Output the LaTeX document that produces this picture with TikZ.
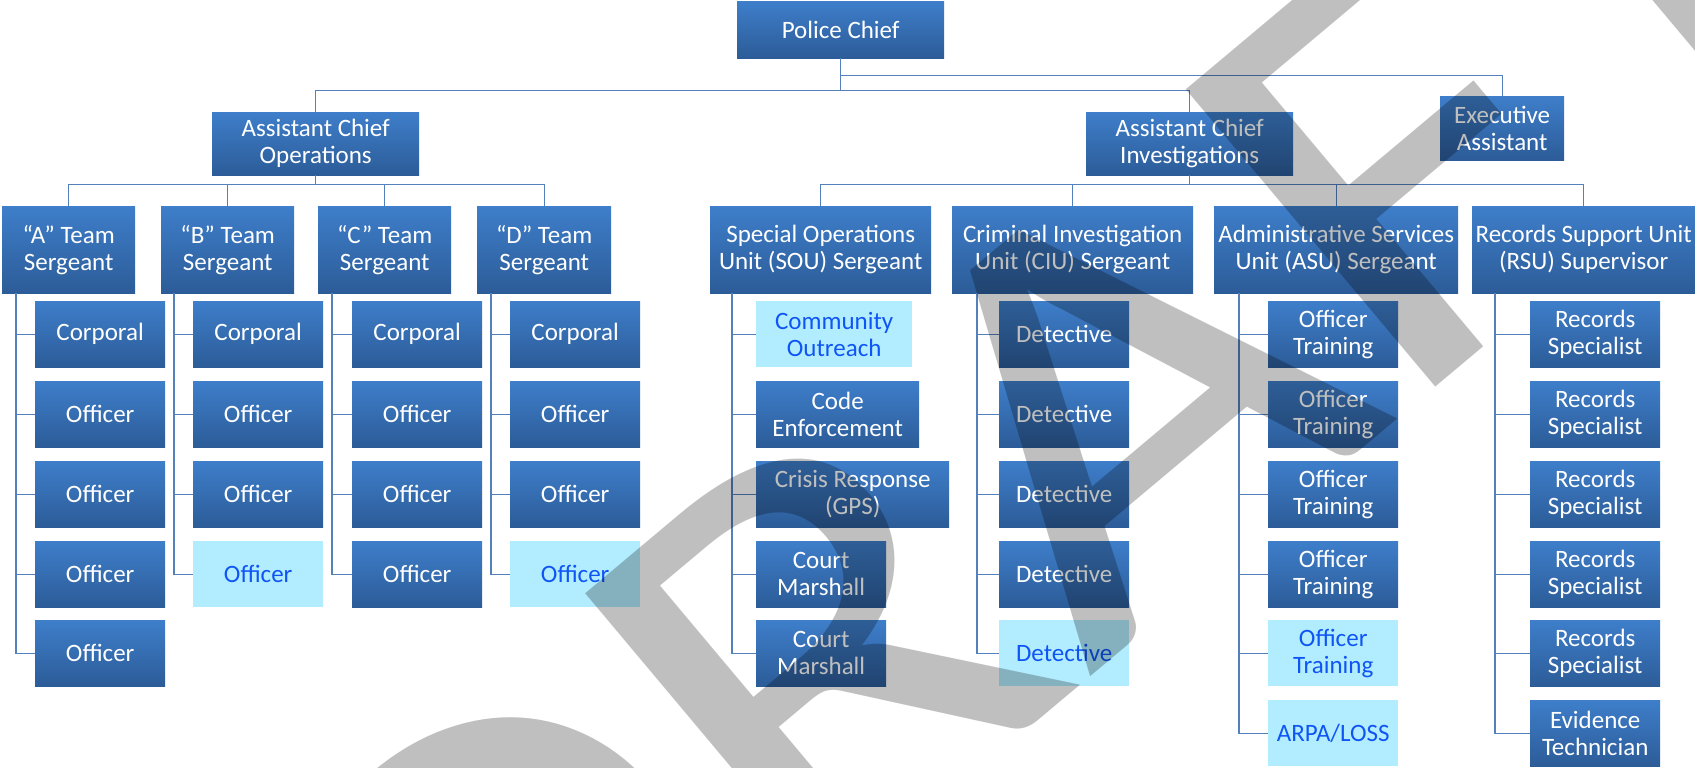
\documentclass[tikz,border=0pt]{standalone}
\usepackage{fontspec}
\setmainfont{Carlito}
\newfontfamily\wmfont{Carlito}
\definecolor{btop}{RGB}{62,126,202}
\definecolor{bbot}{RGB}{44,92,152}
\definecolor{hlfill}{RGB}{178,237,255}
\definecolor{hltext}{RGB}{15,85,245}
\definecolor{lnc}{RGB}{84,128,188}
\definecolor{wmc}{RGB}{191,191,191}
\tikzset{
  base/.style={anchor=north west, inner sep=0pt, align=center, font=\fontsize{25}{27}\selectfont},
  bx/.style={base, text=white, top color=btop, bottom color=bbot},
  hb/.style={base, text=hltext, fill=hlfill},
  ln/.style={draw=lnc, line width=1.3pt},
}
\newcommand\kid[7]{%
  \node[#1, minimum width=#6pt, minimum height=66pt] (#2) at (#4,#5) {#7};
  \draw[ln] (#3) |- (#2.west);}
\begin{document}
\begin{tikzpicture}[x=1pt,y=-1pt]
\useasboundingbox (0,0) rectangle (1695,768);
% top levels
\node[bx, minimum width=207pt, minimum height=57pt] (pc) at (737,1) {Police Chief};
\node[bx, minimum width=207pt, minimum height=63pt] (aco) at (212,112) {Assistant Chief\\Operations};
\node[bx, minimum width=207pt, minimum height=63pt] (aci) at (1086,112) {Assistant Chief\\Investigations};
\node[bx, minimum width=124pt, minimum height=64pt] (ea) at (1440,96) {Executive\\Assistant};
% sergeants
\node[bx, minimum width=133pt, minimum height=87pt] (sA) at (2,206) {“A” Team\\Sergeant};
\node[bx, minimum width=133pt, minimum height=87pt] (sB) at (161,206) {“B” Team\\Sergeant};
\node[bx, minimum width=133pt, minimum height=87pt] (sC) at (318,206) {“C” Team\\Sergeant};
\node[bx, minimum width=134pt, minimum height=87pt] (sD) at (477,206) {“D” Team\\Sergeant};
\node[bx, minimum width=221pt, minimum height=87pt] (sou) at (710,206) {Special Operations\\Unit (SOU) Sergeant};
\node[bx, minimum width=241pt, minimum height=87pt] (ciu) at (952,206) {Criminal Investigation\\Unit (CIU) Sergeant};
\node[bx, minimum width=244pt, minimum height=87pt] (asu) at (1214,206) {Administrative Services\\Unit (ASU) Sergeant};
\node[bx, minimum width=223pt, minimum height=87pt] (rsu) at (1472,206) {Records Support Unit\\(RSU) Supervisor};
% upper connectors
\draw[ln] (pc.south) -- ++(0,17) -| (ea.north);
\draw[ln] (pc.south) -- ++(0,32) coordinate (j1);
\draw[ln] (aco.north) |- (j1);
\draw[ln] (aci.north) |- (j1);
\draw[ln] (aco.south) -- ++(0,9) coordinate (jo);
\foreach \s in {sA,sB,sC,sD} \draw[ln] (\s.north) |- (jo);
\draw[ln] (aci.south) -- ++(0,9) coordinate (ji);
\foreach \s in {sou,ciu,asu,rsu} \draw[ln] (\s.north) |- (ji);
% vertical spines
\coordinate (vA) at ([xshift=14pt]sA.south west);
\coordinate (vB) at ([xshift=13pt]sB.south west);
\coordinate (vC) at ([xshift=14pt]sC.south west);
\coordinate (vD) at ([xshift=14pt]sD.south west);
\coordinate (vS) at ([xshift=22pt]sou.south west);
\coordinate (vI) at ([xshift=25pt]ciu.south west);
\coordinate (vQ) at ([xshift=25pt]asu.south west);
\coordinate (vR) at ([xshift=23pt]rsu.south west);
% A
\kid{bx}{a1}{vA}{35}{301}{130}{Corporal}
\kid{bx}{a2}{vA}{35}{381}{130}{Officer}
\kid{bx}{a3}{vA}{35}{461}{130}{Officer}
\kid{bx}{a4}{vA}{35}{541}{130}{Officer}
\kid{bx}{a5}{vA}{35}{620}{130}{Officer}
% B
\kid{bx}{b1}{vB}{193}{301}{130}{Corporal}
\kid{bx}{b2}{vB}{193}{381}{130}{Officer}
\kid{bx}{b3}{vB}{193}{461}{130}{Officer}
\kid{hb}{b4}{vB}{193}{541}{130}{Officer}
% C
\kid{bx}{c1}{vC}{352}{301}{130}{Corporal}
\kid{bx}{c2}{vC}{352}{381}{130}{Officer}
\kid{bx}{c3}{vC}{352}{461}{130}{Officer}
\kid{bx}{c4}{vC}{352}{541}{130}{Officer}
% D
\kid{bx}{d1}{vD}{510}{301}{130}{Corporal}
\kid{bx}{d2}{vD}{510}{381}{130}{Officer}
\kid{bx}{d3}{vD}{510}{461}{130}{Officer}
\kid{hb}{d4}{vD}{510}{541}{130}{Officer}
% SOU
\kid{hb}{s1}{vS}{756}{301}{156}{Community\\Outreach}
\kid{bx}{s2}{vS}{756}{381}{163}{Code\\Enforcement}
\kid{bx}{s3}{vS}{756}{461}{193}{Crisis Response\\(GPS)}
\kid{bx}{s4}{vS}{756}{541}{130}{Court\\Marshall}
\kid{bx}{s5}{vS}{756}{620}{130}{Court\\Marshall}
% CIU
\kid{bx}{i1}{vI}{999}{301}{130}{Detective}
\kid{bx}{i2}{vI}{999}{381}{130}{Detective}
\kid{bx}{i3}{vI}{999}{461}{130}{Detective}
\kid{bx}{i4}{vI}{999}{541}{130}{Detective}
\kid{hb}{i5}{vI}{999}{620}{130}{Detective}
% ASU
\kid{bx}{q1}{vQ}{1268}{301}{130}{Officer\\Training}
\kid{bx}{q2}{vQ}{1268}{381}{130}{Officer\\Training}
\kid{bx}{q3}{vQ}{1268}{461}{130}{Officer\\Training}
\kid{bx}{q4}{vQ}{1268}{541}{130}{Officer\\Training}
\kid{hb}{q5}{vQ}{1268}{620}{130}{Officer\\Training}
\kid{hb}{q6}{vQ}{1268}{700}{130}{ARPA/LOSS}
% RSU
\kid{bx}{r1}{vR}{1530}{301}{130}{Records\\Specialist}
\kid{bx}{r2}{vR}{1530}{381}{130}{Records\\Specialist}
\kid{bx}{r3}{vR}{1530}{461}{130}{Records\\Specialist}
\kid{bx}{r4}{vR}{1530}{541}{130}{Records\\Specialist}
\kid{bx}{r5}{vR}{1530}{620}{130}{Records\\Specialist}
\kid{bx}{r6}{vR}{1530}{700}{130}{Evidence\\Technician}
% watermark
\begin{scope}
\clip (0,0) rectangle (1695,768);
\begin{scope}[blend mode=multiply]
\begin{scope}[shift={(466,1201)}, rotate=40, xscale=1.16, transform shape]
\node[anchor=base west, inner sep=0pt, text=wmc, font=\wmfont\fontsize{605}{605}\selectfont] (wm) at (0,0) {DRAFT};
\end{scope}
\end{scope}
\end{scope}
\end{tikzpicture}
\end{document}
